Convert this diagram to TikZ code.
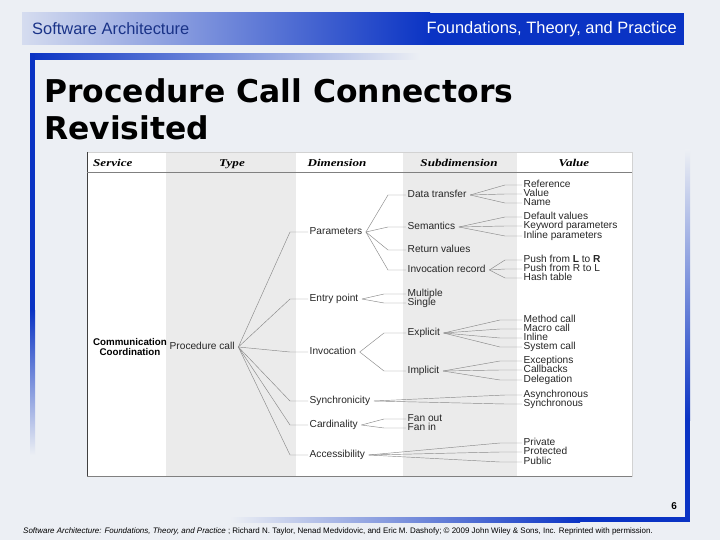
\documentclass[tikz,border=0pt]{standalone}
\usepackage{fontspec}
\setmainfont{Liberation Sans}
\newfontfamily\titlefont{DejaVu Sans}
\newfontfamily\headfont[FakeStretch=1.25]{Liberation Serif}
\usetikzlibrary{positioning,calc}
\definecolor{slidebg}{HTML}{ECEFF4}
\definecolor{barblue}{HTML}{0A33C4}
\definecolor{headblue}{HTML}{1A3388}
\definecolor{colgray}{HTML}{EBEBEB}
\definecolor{linkgray}{HTML}{8A8A8A}
\definecolor{labelgray}{HTML}{262626}
% parent, stub length, children
\newcommand\fanout[3]{%
  \foreach \kid in {#3}{\draw[link] ([xshift=2bp]#1.east) -- ([xshift=-#2bp]\kid.west) -- (\kid.west);}}

\begin{document}
\begin{tikzpicture}[x=1bp,y=-1bp,
  lbl/.style={font=\fontsize{10.2}{11}\selectfont, text=labelgray, anchor=west, inner xsep=1.5bp, inner ysep=0pt, text height=6.6bp, text depth=1.6bp},
  colhead/.style={font=\headfont\bfseries\itshape\fontsize{10.5}{12}\selectfont, anchor=base, inner sep=0pt},
  link/.style={draw=linkgray, line width=0.45bp}]
  \useasboundingbox (0,0) rectangle (720,540);
  \fill[slidebg] (0,0) rectangle (720,540);
  % slide frame
  \shade[left color=barblue!10!slidebg, right color=barblue] (22,13) rectangle (430,45);
  \fill[barblue] (430,13) rectangle (684,45);
  \shade[left color=barblue, right color=slidebg] (30,54) rectangle (420,60);
  \fill[barblue] (30,54) rectangle (35,310);
  \shade[top color=barblue, bottom color=slidebg] (30,310) rectangle (35,455);
  \shade[top color=slidebg, bottom color=barblue] (685,150) rectangle (690,420);
  \fill[barblue] (685,420) rectangle (690,522);
  \shade[left color=slidebg, right color=barblue] (230,517) rectangle (580,522);
  \fill[barblue] (580,517) rectangle (690,522);
  \node[headblue,font=\fontsize{16.5}{18}\selectfont,anchor=west,inner sep=0pt] (book) at (32,29) {Software Architecture};
  \node[white,font=\fontsize{16.5}{18}\selectfont,anchor=east,inner sep=0pt] (sub) at (677,29) {Foundations, Theory, and Practice};
  \node[font=\titlefont\bfseries\fontsize{31.5}{36}\selectfont,anchor=base west,inner sep=0pt] (title) at (44,103) {Procedure Call Connectors};
  \node[font=\titlefont\bfseries\fontsize{31.5}{36}\selectfont,anchor=base west,inner sep=0pt] (title2) at (44,140) {Revisited};
  % table
  \fill[white] (87,152) rectangle (632,476);
  \fill[colgray] (166,152) rectangle (296,476);
  \fill[colgray] (403,152) rectangle (517,476);
  \draw[gray!35] (87,152) rectangle (632,476);
  \draw[black!75,line width=0.6bp] (87,152) -- (87,476);
  \draw[gray,line width=0.6bp] (87,172) -- (632,172);
  \draw[gray,line width=0.6bp] (87,476) -- (632,476);
  \node[colhead,anchor=base west] (hsvc) at (93,167) {Service};
  \node[colhead] (htype) at (232,167) {Type};
  \node[colhead] (hdim) at (337,167) {Dimension};
  \node[colhead] (hsub) at (459,167) {Subdimension};
  \node[colhead] (hval) at (574,167) {Value};
  % service and type
  \node[font=\fontsize{9.8}{11}\selectfont\bfseries,align=center,inner sep=0pt] (svc) at (130,347) {Communication\\Coordination};
  \node[lbl] (proc) at (168,347) {Procedure call};
  % dimensions
  \node[lbl] (par) at (308,232) {Parameters};
  \node[lbl] (ent) at (308,299) {Entry point};
  \node[lbl] (inv) at (308,352) {Invocation};
  \node[lbl] (syn) at (308,401) {Synchronicity};
  \node[lbl] (card) at (308,425) {Cardinality};
  \node[lbl] (acc) at (308,455) {Accessibility};
  % subdimensions
  \node[lbl] (dt) at (406,195) {Data transfer};
  \node[lbl] (sem) at (406,227) {Semantics};
  \node[lbl] (ret) at (406,250) {Return values};
  \node[lbl] (rec) at (406,270) {Invocation record};
  \node[lbl] (mul) at (406,294) {Multiple};
  \node[lbl] (sgl) at (406,303) {Single};
  \node[lbl] (exp) at (406,333) {Explicit};
  \node[lbl] (imp) at (406,371) {Implicit};
  \node[lbl] (fo) at (406,419) {Fan out};
  \node[lbl] (fi) at (406,428) {Fan in};
  % values
  \node[lbl] (ref) at (522,185) {Reference};
  \node[lbl] (val) at (522,194) {Value};
  \node[lbl] (nam) at (522,203) {Name};
  \node[lbl] (def) at (522,217) {Default values};
  \node[lbl] (kw) at (522,226) {Keyword parameters};
  \node[lbl] (inl) at (522,236) {Inline parameters};
  \node[lbl] (lr) at (522,260) {Push from \textbf{L} to \textbf{R}};
  \node[lbl] (rl) at (522,269) {Push from R to L};
  \node[lbl] (hash) at (522,278) {Hash table};
  \node[lbl] (meth) at (522,320) {Method call};
  \node[lbl] (mac) at (522,329) {Macro call};
  \node[lbl] (inline) at (522,338) {Inline};
  \node[lbl] (sys) at (522,347) {System call};
  \node[lbl] (exc) at (522,361) {Exceptions};
  \node[lbl] (cb) at (522,370) {Callbacks};
  \node[lbl] (del) at (522,380) {Delegation};
  \node[lbl] (asy) at (522,395) {Asynchronous};
  \node[lbl] (sy) at (522,404) {Synchronous};
  \node[lbl] (pri) at (522,443) {Private};
  \node[lbl] (pro) at (522,452) {Protected};
  \node[lbl] (pub) at (522,462) {Public};
  % connectors
  \fanout{proc}{18}{par,ent,inv,syn,card,acc}
  \fanout{par}{18}{dt,sem,ret,rec}
  \fanout{ent}{22}{mul,sgl}
  \fanout{inv}{22}{exp,imp}
  \fanout{card}{22}{fo,fi}
  \fanout{dt}{17}{ref,val,nam}
  \fanout{sem}{17}{def,kw,inl}
  \fanout{rec}{17}{lr,rl,hash}
  \fanout{exp}{22}{meth,mac,inline,sys}
  \fanout{imp}{22}{exc,cb,del}
  \fanout{syn}{17}{asy,sy}
  \fanout{acc}{22}{pri,pro,pub}
  % footer
  \node[font=\bfseries\fontsize{10}{12}\selectfont,anchor=base east,inner sep=0pt] (page) at (677,509) {6};
  \node[font=\fontsize{8}{9}\selectfont,anchor=base west,inner sep=0pt] (credit) at (23,533) {\textit{Software Architecture: Foundations, Theory, and Practice} ; Richard N. Taylor, Nenad Medvidovic, and Eric M. Dashofy; \textcopyright\ 2009 John Wiley \& Sons, Inc. Reprinted with permission.};
\end{tikzpicture}
\end{document}
